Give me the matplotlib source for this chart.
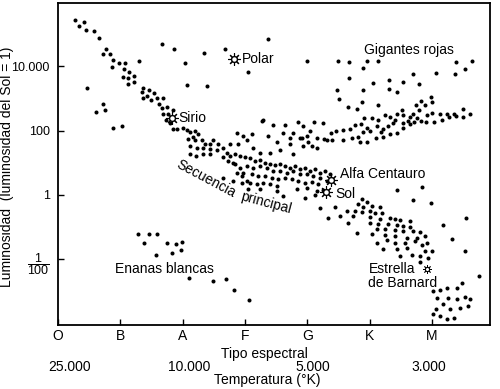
import numpy as np
import matplotlib.pyplot as plt

plt.rcParams['font.family'] = ['Liberation Sans', 'DejaVu Sans']
plt.rcParams['mathtext.fontset'] = 'custom'
plt.rcParams['mathtext.rm'] = 'Liberation Sans'

# x = spectral class position (O=0, B=1, ... M=6), y = log10(L / L_sun)
spec_labels = ['O', 'B', 'A', 'F', 'G', 'K', 'M']
lum_ticks = [4, 2, 0, -2]
lum_labels = ['10.000', '100', '1', r'$\dfrac{1}{100}$']
temp_pos = [0.19, 2.10, 4.08, 5.94]
temp_labels = ['25.000', '10.000', '5.000', '3.000']

# scattered bright stars (supergiants / giants)
upper_x = [1.67, 1.86, 2.34, 2.68, 2.04, 1.30, 0.47, 2.07, 2.39, 3.05, 3.37, 0.61, 0.72,
           0.75, 0.88, 1.03, 4.00, 4.49, 4.67, 4.96, 5.14, 4.90, 4.67, 5.06, 5.31, 5.54,
           5.70, 5.79, 6.07, 6.39, 6.64, 6.53, 6.37, 4.48, 4.90, 5.31, 5.44, 4.51, 4.88,
           5.14, 4.65, 4.80, 3.29, 4.91]
upper_y = [4.69, 4.53, 4.41, 4.53, 4.09, 4.16, 3.34, 3.41, 3.38, 3.81, 4.84, 2.59, 2.84,
           2.63, 2.09, 2.13, 4.16, 4.16, 4.13, 4.16, 4.16, 3.94, 3.63, 3.47, 3.56, 3.50,
           3.75, 3.44, 3.78, 4.13, 4.16, 3.91, 3.75, 3.25, 3.25, 3.28, 3.19, 2.97, 2.88,
           2.81, 2.72, 2.66, 2.34, 2.38]

# main sequence, O-B-A part
ms_hot_x = [0.27, 0.42, 0.34, 0.45, 0.58, 0.66, 0.77, 0.72, 0.83, 0.88, 0.98, 1.08, 0.87,
            1.06, 1.14, 1.22, 1.04, 1.12, 1.22, 1.12, 1.36, 1.35, 1.46, 1.54, 1.43, 1.36,
            1.49, 1.59, 1.69, 1.62, 1.67, 1.75, 1.69, 1.77, 1.85, 1.73, 1.80, 1.85]
ms_hot_y = [5.44, 5.38, 5.25, 5.13, 5.09, 4.88, 4.53, 4.38, 4.38, 4.19, 4.09, 4.09, 3.97,
            3.91, 3.81, 3.69, 3.66, 3.63, 3.50, 3.44, 3.34, 3.19, 3.25, 3.16, 3.09, 3.00,
            2.94, 3.00, 3.00, 2.84, 2.69, 2.72, 2.53, 2.50, 2.63, 2.34, 2.22, 2.06]

# main sequence, A-F-G part
ms_mid_x = [1.91, 2.01, 2.07, 2.12, 2.20, 2.25, 2.17, 2.09, 2.20, 2.31, 2.36, 2.44, 2.49,
            2.57, 2.12, 2.23, 2.33, 2.44, 2.55, 2.65, 2.71, 2.76, 2.84, 2.92, 3.00, 3.08,
            3.16, 3.24, 3.32, 3.40, 3.48, 3.56, 3.64, 3.72, 3.80, 3.88, 3.96, 4.04, 4.12,
            4.21, 4.29, 4.37, 2.12, 2.21, 2.33, 2.44, 2.73, 2.84, 2.92, 2.87, 2.95, 3.03,
            2.81, 2.87, 2.97, 3.11, 3.27, 3.37, 3.45, 3.52, 3.64, 3.61, 3.72, 3.77, 3.88,
            4.00, 4.32, 4.01, 4.16, 3.93, 3.77, 3.56, 3.40, 3.24, 3.13, 3.03, 2.89, 2.76,
            2.65, 2.81, 3.03, 3.13, 3.24, 3.35, 3.45, 3.56, 3.68, 3.77, 3.88, 4.00, 4.09,
            4.21, 2.97, 3.11, 3.21, 3.32, 3.43, 3.53, 3.64, 3.76, 3.85, 3.96, 4.08, 4.17,
            4.32, 2.95, 3.08, 3.19, 3.29, 3.40, 3.52, 2.65, 3.05, 3.24, 3.52, 3.84, 4.00,
            3.61, 4.16, 4.25]
ms_mid_y = [2.06, 2.09, 2.03, 1.94, 1.97, 1.88, 1.81, 1.75, 1.72, 1.69, 1.59, 1.59, 1.69,
            1.59, 1.53, 1.47, 1.47, 1.41, 1.38, 1.47, 1.31, 1.22, 1.28, 1.22, 1.16, 1.13,
            1.06, 1.09, 1.00, 0.97, 0.94, 0.97, 0.91, 0.84, 0.88, 0.81, 0.84, 0.75, 0.81,
            0.69, 0.75, 0.66, 1.28, 1.22, 1.28, 1.28, 1.06, 0.97, 0.84, 0.69, 0.59, 0.44,
            0.44, 1.91, 1.84, 1.88, 2.31, 1.84, 2.16, 1.63, 2.16, 1.91, 1.59, 1.91, 1.78,
            1.84, 1.69, 1.63, 1.47, 1.53, 1.28, 1.38, 1.31, 1.31, 1.47, 1.69, 1.59, 1.59,
            1.16, 1.00, 0.91, 0.84, 0.91, 0.84, 0.75, 0.75, 0.69, 0.75, 0.66, 0.66, 0.59,
            0.53, 0.69, 0.66, 0.59, 0.59, 0.53, 0.50, 0.53, 0.50, 0.44, 0.38, 0.41, 0.34,
            0.44, 0.38, 0.38, 0.34, 0.38, 0.34, 0.28, 0.53, 0.19, 0.19, 0.13, 0.19, 0.22,
            -0.03, 0.13, 0.16]

# giant branch
giant_x = [3.85, 3.93, 4.04, 4.11, 4.25, 3.92, 3.72, 4.08, 4.16, 4.27, 4.38, 4.46, 4.57,
           4.69, 4.77, 4.86, 4.96, 5.12, 5.22, 5.30, 5.38, 5.54, 5.62, 5.71, 5.83, 5.91,
           6.03, 6.16, 6.28, 6.39, 6.50, 6.61, 6.50, 6.36, 6.24, 6.13, 6.00, 5.92, 5.76,
           5.65, 5.54, 5.44, 5.52, 5.70, 5.79, 5.75, 5.89, 6.00, 5.99, 5.83, 5.33, 5.25,
           5.14, 5.04, 5.41, 4.40, 4.57, 4.72, 4.82, 4.90, 5.01, 5.10, 5.22, 5.33, 5.44,
           5.54, 5.65, 4.96, 4.85, 5.18]
giant_y = [2.28, 2.13, 2.00, 2.25, 2.22, 1.78, 1.78, 1.53, 1.78, 1.75, 1.91, 1.97, 2.03,
           2.06, 2.16, 2.19, 2.09, 2.13, 2.06, 2.13, 2.22, 2.22, 2.31, 2.25, 2.31, 2.25,
           2.25, 2.34, 2.41, 2.44, 2.41, 2.53, 2.66, 2.53, 2.53, 2.50, 2.56, 2.47, 2.38,
           2.41, 2.47, 2.53, 2.63, 2.53, 2.63, 2.78, 2.81, 2.88, 3.03, 2.91, 2.41, 2.47,
           2.34, 2.38, 2.34, 1.72, 1.69, 1.78, 1.81, 1.94, 1.97, 1.78, 1.81, 1.88, 1.91,
           2.09, 2.19, 1.63, 1.63, 1.94]

# main sequence, G-K-M part
ms_cool_x = [3.96, 4.12, 4.88, 4.96, 4.82, 4.90, 5.04, 5.17, 4.21, 4.45, 4.64, 4.77, 4.88,
             5.01, 5.20, 4.33, 4.53, 4.74, 5.01, 5.17, 5.33, 5.49, 5.65, 4.65, 5.01, 5.14,
             5.30, 5.44, 5.65, 5.12, 5.25, 5.41, 5.54, 5.70, 5.81, 4.80, 5.04, 5.25, 5.60,
             5.76, 5.89, 5.12, 5.41, 5.84, 5.22, 5.44, 5.60, 5.89, 5.49, 5.68, 5.94, 5.81,
             5.09, 5.41, 5.54, 5.41, 5.28, 5.57, 5.73, 6.00, 5.92, 5.81]
ms_cool_y = [-0.09, 0.00, -0.13, -0.22, -0.28, -0.38, -0.34, -0.38, -0.41, -0.38, -0.50,
             -0.50, -0.53, -0.50, -0.56, -0.72, -0.66, -0.66, -0.69, -0.75, -0.72, -0.78,
             -0.81, -0.88, -0.88, -0.91, -0.91, -0.94, -1.00, -1.06, -1.06, -1.09, -1.13,
             -1.13, -1.16, -1.19, -1.22, -1.25, -1.34, -1.34, -1.28, -1.50, -1.50, -1.56,
             -1.69, -1.69, -1.66, -1.75, -1.91, -1.88, -1.97, -2.09, -0.56, -0.75, -0.97,
             -1.28, -1.41, -1.50, -1.44, -1.75, -1.50, -1.91]

# loose stars right of the lower main sequence
loose_x = [5.44, 5.70, 5.99, 5.84, 6.18, 6.55, 6.32, 6.53, 6.76]
loose_y = [0.16, -0.16, -0.25, 0.25, -0.94, -0.72, -1.38, -1.75, -2.53]

# red dwarfs
red_x = [6.02, 6.13, 6.24, 6.40, 6.48, 6.08, 6.26, 6.40, 6.53, 6.61, 6.18, 6.29, 6.45,
         6.58, 6.07, 6.13, 6.24, 6.36, 6.02]
red_y = [-3.00, -2.97, -2.91, -2.91, -2.75, -3.22, -3.22, -3.25, -3.19, -3.25, -3.41,
         -3.56, -3.53, -3.47, -3.56, -3.78, -3.88, -3.84, -3.72]

# white dwarfs
wd_x = [1.28, 1.46, 1.59, 1.38, 1.57, 1.75, 1.89, 1.99, 1.83, 1.97, 2.10, 2.49, 2.70,
        2.82, 3.07]
wd_y = [-1.22, -1.22, -1.22, -1.50, -1.88, -1.50, -1.53, -1.47, -1.81, -1.72, -2.59,
        -2.69, -2.63, -2.97, -3.28]

# named stars
named = ['Polar', 'Sirio', 'Alfa Centauro', 'Sol']
named_x = [2.82, 1.83, 4.38, 4.30]
named_y = [4.22, 2.38, 0.47, 0.09]
barnard_x, barnard_y = 5.92, -2.31

fig = plt.figure(figsize=(5.0, 3.89), dpi=100)
ax = fig.add_axes([0.116, 0.1645, 0.864, 0.8275])

dot = dict(linestyle='none', marker='o', ms=2.9, color='black', mew=0)
for xs, ys in [(upper_x, upper_y), (ms_hot_x, ms_hot_y), (ms_mid_x, ms_mid_y),
               (giant_x, giant_y), (ms_cool_x, ms_cool_y), (loose_x, loose_y),
               (red_x, red_y), (wd_x, wd_y)]:
    ax.plot(xs, ys, **dot)

# sun-like symbols for the named stars
ax.plot(named_x, named_y, linestyle='none', marker=(8, 2, 0), ms=9, color='black', mew=0.8)
ax.plot(named_x, named_y, linestyle='none', marker='o', ms=4.2, mfc='white',
        mec='black', mew=1.0)
ax.plot([barnard_x], [barnard_y], linestyle='none', marker=(8, 2, 0), ms=6, color='black', mew=0.6)
ax.plot([barnard_x], [barnard_y], linestyle='none', marker='o', ms=3, mfc='white',
        mec='black', mew=0.8)

fs = 10
ax.text(1.93, 2.38, 'Sirio', fontsize=fs, va='center')
ax.text(2.95, 4.22, 'Polar', fontsize=fs, va='center')
ax.text(5.63, 4.50, 'Gigantes rojas', fontsize=fs, ha='center', va='center')
ax.text(4.53, 0.63, 'Alfa Centauro', fontsize=fs, va='center')
ax.text(4.45, 0.03, 'Sol', fontsize=fs, va='center')
ax.text(4.98, -2.53, 'Estrella\nde Barnard', fontsize=fs, va='center', linespacing=1.0)
ax.text(1.70, -2.31, 'Enanas blancas', fontsize=fs, ha='center', va='center')
ax.text(2.38, 0.50, 'Secuencia', fontsize=fs, ha='center', va='center',
        rotation=-28, rotation_mode='anchor')
ax.text(3.34, -0.25, 'principal', fontsize=fs, ha='center', va='center',
        rotation=-15, rotation_mode='anchor')

ax.set_xlim(0, 6.93)
ax.set_ylim(-4.06, 5.97)
ax.set_xticks(range(len(spec_labels)))
ax.set_xticklabels(spec_labels, fontsize=fs)
ax.set_yticks(lum_ticks)
ax.set_yticklabels(lum_labels, fontsize=9)
ax.tick_params(direction='in', length=4, width=1.0, pad=6)
ax.tick_params(axis='x', pad=3)
for sp in ax.spines.values():
    sp.set_linewidth(1.3)

ax.text(3.31, -0.09, 'Tipo espectral', fontsize=fs, ha='center', va='center',
        transform=ax.get_xaxis_transform())
for x, t in zip(temp_pos, temp_labels):
    ax.text(x, -0.13, t, fontsize=fs, ha='center', va='center',
            transform=ax.get_xaxis_transform())
ax.text(3.36, -0.17, 'Temperatura (°K)', fontsize=fs, ha='center', va='center',
        transform=ax.get_xaxis_transform())

fig.text(0.015, 0.571, 'Luminosidad  (luminosidad del Sol = 1)', fontsize=fs,
         rotation=90, ha='center', va='center')

fig.savefig('out.png', dpi=100)
